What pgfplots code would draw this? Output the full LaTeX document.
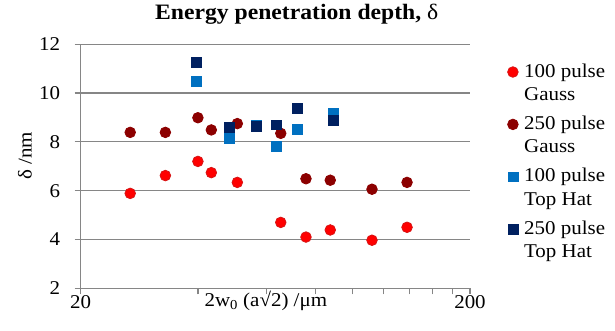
\documentclass[border=0pt]{standalone}
\usepackage{fontspec}
\setmainfont{Liberation Serif}[FakeStretch=1.075]
\usepackage{pgfplots}
\pgfplotsset{compat=1.18}
\definecolor{gauss100}{RGB}{255,0,0}
\definecolor{gauss100e}{RGB}{215,20,20}
\definecolor{gauss250}{RGB}{140,0,0}
\definecolor{top100}{RGB}{0,112,192}
\definecolor{top250}{RGB}{0,32,96}
\definecolor{gridc}{RGB}{134,134,134}
\begin{document}
\begin{tikzpicture}
\path[use as bounding box] (-80.7pt,-42.7pt) rectangle (534.3pt,288.3pt);
\begin{axis}[
  at={(0pt,0pt)}, anchor=south west,
  scale only axis, width=389.3pt, height=244pt,
  xmode=log, xmin=20, xmax=200, ymin=2, ymax=12,
  xtick={20,40,60,80,100,120,140,160,180,200},
  xticklabels={20,,,,,,,,,200},
  minor xtick={},
  ytick={2,4,6,8,10,12},
  axis lines=left, axis line style={-, draw=gridc, line width=1.2pt},
  ymajorgrids, major grid style={draw=gridc, line width=1.2pt},
  tick align=outside, major tick length=6pt,
  tick style={draw=gridc, line width=1.2pt},
  /pgf/number format/assume math mode=true,
  ticklabel style={font=\fontsize{19.5}{23}\selectfont},
  yticklabel style={xshift=-11pt},
  xticklabel style={yshift=2.5pt},
  title={\textbf{Energy penetration depth, }{\mdseries δ}},
  title style={font=\fontsize{22}{26}\selectfont, at={(axis description cs:0.555,1)}, anchor=base, yshift=18.3pt},
  xlabel={2w\textsubscript{0} (a√2) /μm},
  xlabel style={font=\fontsize{19.5}{23}\selectfont, at={(axis description cs:0.4755,0)}, anchor=base, yshift=-18.4pt},
  ylabel={δ /nm},
  ylabel style={font=\fontsize{19.5}{23}\selectfont, at={(axis description cs:-0.1431,0.542)}, anchor=center},
  legend style={at={(axis description cs:1.0943,0.941)}, anchor=north west, draw=none, fill=none,
    inner sep=0pt, outer sep=0pt,
    font=\fontsize{19.5}{23.3}\selectfont, row sep=7.3pt,
    cells={anchor=base west, inner sep=0pt},
    /tikz/every odd column/.append style={column sep=3pt}},
  legend image code/.code={\path (-6pt,0pt) (6pt,0pt); \draw[#1] plot coordinates {(0pt,28.3pt)};},
  clip=false,
]
\addplot[only marks, mark=*, mark size=5.3pt, mark options={fill=gauss100, draw=gauss100e, line width=0.8pt}] coordinates {
(26.8,5.89)(33.0,6.62)(40,7.2)(43.3,6.74)(50.5,6.34)(65.3,4.70)(75.8,4.10)(87.5,4.39)(112,3.97)(137.8,4.50)};
\addlegendentry{\begin{tabular}[b]{@{}l@{}}100 pulse\\Gauss\end{tabular}}
\addplot[only marks, mark=*, mark size=5.3pt, mark options={fill=gauss250, draw=gauss250, line width=0.8pt}] coordinates {
(26.8,8.39)(33.0,8.39)(40,8.99)(43.3,8.49)(50.5,8.75)(65.3,8.35)(75.8,6.49)(87.5,6.43)(112,6.06)(137.8,6.34)};
\addlegendentry{\begin{tabular}[b]{@{}l@{}}250 pulse\\Gauss\end{tabular}}
\addplot[only marks, mark=square*, mark size=4.8pt, mark options={fill=top100, draw=top100, line width=0.4pt}] coordinates {
(39.6,10.48)(48.2,8.15)(56.5,8.68)(63.6,7.82)(72,8.52)(89.1,9.2)};
\addlegendentry{\begin{tabular}[b]{@{}l@{}}100 pulse\\Top Hat\end{tabular}}
\addplot[only marks, mark=square*, mark size=4.8pt, mark options={fill=top250, draw=top250, line width=0.4pt}] coordinates {
(39.6,11.26)(48.2,8.6)(56.5,8.65)(63.6,8.7)(72,9.38)(89.1,8.9)};
\addlegendentry{\begin{tabular}[b]{@{}l@{}}250 pulse\\Top Hat\end{tabular}}
\end{axis}
\end{tikzpicture}
\end{document}
